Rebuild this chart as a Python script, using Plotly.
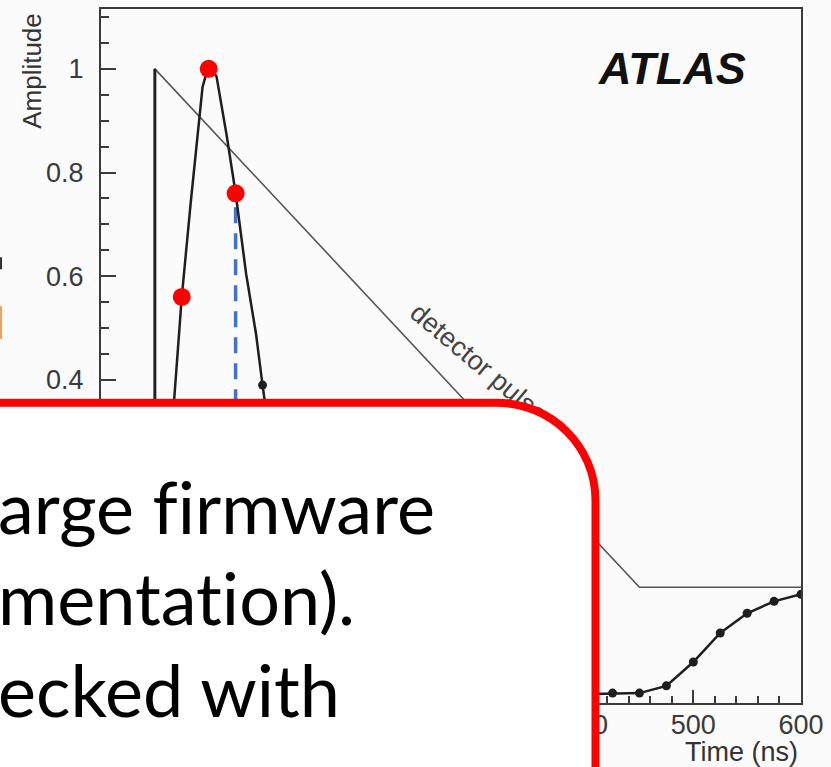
import plotly.graph_objects as go

# ---------------- data ----------------
# Triangular detector current pulse (drift time ~450 ns)
det_t = [0, 0, 450, 600]
det_amp = [0, 1.0, 0, 0]

# Shaped (bipolar) pulse
shape_t = [5, 17.6, 25, 33.4, 39.6, 44.3, 49, 53, 57.3, 66.6, 75, 84.8, 94, 100,
           110, 125, 150, 175, 200, 250, 300, 350, 400, 425, 450, 475, 500, 525,
           550, 575, 600]
shape_amp = [0.0, 0.36, 0.56, 0.744, 0.873, 0.965, 1.0, 1.0, 0.985, 0.873, 0.76,
             0.604, 0.488, 0.39, 0.24, 0.06, -0.12, -0.185, -0.205, -0.21, -0.21,
             -0.208, -0.205, -0.204, -0.204, -0.19, -0.144, -0.088, -0.05, -0.027,
             -0.0135]

# Digitised samples every 25 ns
sample_t = [25, 50, 75, 100, 125, 150, 175, 200, 225, 250, 275, 300, 325, 350,
            375, 400, 425, 450, 475, 500, 525, 550, 575, 600]
sample_amp = [0.56, 1.0, 0.76, 0.39, 0.06, -0.12, -0.185, -0.205, -0.21, -0.21,
              -0.21, -0.21, -0.21, -0.208, -0.207, -0.205, -0.204, -0.204, -0.19,
              -0.144, -0.088, -0.05, -0.027, -0.0135]
n_highlight = 3          # first samples around the peak
marked_sample = 75       # sample picked out with the dashed line

x_tickvals = [0, 100, 200, 300, 400, 500, 600]
x_ticktext = ["0", "100", "200", "300", "400", "500", "600"]
y_tickvals = [-0.2, 0, 0.2, 0.4, 0.6, 0.8, 1.0]
y_ticktext = ["-0.2", "0", "0.2", "0.4", "0.6", "0.8", "1"]

# callout text (a zero-width non-joiner keeps f/i and t/i as separate glyphs)
ZWNJ = "\u200c"
box_lines = ["arge f" + ZWNJ + "irmware", "mentat" + ZWNJ + "ion).", "ecked with"]
box_baselines = [533, 625, 717]

# ---------------- geometry ----------------
W, H = 831, 767
ML, MR, MT, MB = 101, 30, 7, 64
PW, PH = W - ML - MR, H - MT - MB


def px(x):
    return (x - ML) / PW


def py(y):
    return (H - MB - y) / PH


AX_FONT = "Liberation Sans, Arial, Helvetica, sans-serif"
BOX_FONT = "Lato, Calibri, sans-serif"

fig = go.Figure()

# detector pulse triangle
fig.add_trace(go.Scatter(x=det_t, y=det_amp, mode="lines",
                         line=dict(color="#555555", width=1.6),
                         hoverinfo="skip", showlegend=False))
# rising edge drawn heavier
fig.add_trace(go.Scatter(x=det_t[:2], y=det_amp[:2], mode="lines",
                         line=dict(color="#222222", width=3),
                         hoverinfo="skip", showlegend=False))

# dashed marker line for the chosen sample
m_idx = sample_t.index(marked_sample)
fig.add_trace(go.Scatter(x=[marked_sample, marked_sample], y=[0, sample_amp[m_idx]],
                         mode="lines",
                         line=dict(color="#4472C4", width=3.5, dash="16px,10px"),
                         hoverinfo="skip", showlegend=False))

# shaped pulse curve
fig.add_trace(go.Scatter(x=shape_t, y=shape_amp, mode="lines",
                         line=dict(color="#1e1e1e", width=2.5),
                         hoverinfo="skip", showlegend=False))

# samples
fig.add_trace(go.Scatter(x=sample_t[n_highlight:], y=sample_amp[n_highlight:],
                         mode="markers",
                         marker=dict(color="#1e1e1e", size=9),
                         hoverinfo="skip", showlegend=False))
fig.add_trace(go.Scatter(x=sample_t[:n_highlight], y=sample_amp[:n_highlight],
                         mode="markers",
                         marker=dict(color="#FF0000", size=18),
                         hoverinfo="skip", showlegend=False))

# "detector pulse" label, kept in the shape layer so the callout box covers its end
lx, ly = 481, 360
shapes = [
    dict(type="line", xref="paper", yref="paper",
         x0=px(lx - 5), y0=py(ly), x1=px(lx + 5), y1=py(ly),
         line=dict(width=0, color="rgba(0,0,0,0)"), layer="above",
         label=dict(text="detector pulse", textangle=40, textposition="middle",
                    xanchor="center", yanchor="middle", padding=0,
                    font=dict(family=AX_FONT, size=27, color="#444444"))),
]

# rounded callout box (top-right corner visible)
R = 98.0
K = 0.5523 * R
bx, by = 595.5, 402.0
pts = [
    ("M", [(-30, by)]),
    ("L", [(bx - R, by)]),
    ("C", [(bx - R + K, by), (bx, by + R - K), (bx, by + R)]),
    ("L", [(bx, 820)]),
    ("L", [(-30, 820)]),
]
path = ""
for cmd, coords in pts:
    path += cmd + " ".join(f"{px(a):.5f},{py(b):.5f}" for a, b in coords) + " "
path += "Z"
shapes.append(dict(type="path", xref="paper", yref="paper", path=path,
                   fillcolor="#ffffff", line=dict(color="#FF0000", width=8),
                   layer="above"))

# slivers of neighbouring slide text at the left edge
shapes.append(dict(type="line", xref="paper", yref="paper",
                   x0=px(0.8), x1=px(0.8), y0=py(256), y1=py(268),
                   line=dict(color="#333333", width=2.5), layer="above"))
shapes.append(dict(type="line", xref="paper", yref="paper",
                   x0=px(0.8), x1=px(0.8), y0=py(305), y1=py(338),
                   line=dict(color="#F2A05E", width=2.5), layer="above"))

annotations = [
    dict(text="Amplitude", xref="paper", yref="paper", x=px(32), y=py(69),
         textangle=-90, showarrow=False, xanchor="center", yanchor="middle",
         font=dict(family=AX_FONT, size=26, color="#333333")),
    dict(text="Time (ns)", xref="paper", yref="paper", x=px(741), y=py(752),
         showarrow=False, xanchor="center", yanchor="middle",
         font=dict(family=AX_FONT, size=27, color="#333333")),
    dict(text="<b><i>ATLAS</i></b>", xref="paper", yref="paper", x=px(672), y=py(67),
         showarrow=False, xanchor="center", yanchor="middle",
         font=dict(family=AX_FONT, size=45, color="#111111")),
]

for txt, base in zip(box_lines, box_baselines):
    annotations.append(dict(text=txt, xref="paper", yref="paper",
                            x=px(-4), y=py(base - 28), showarrow=False,
                            xanchor="left", yanchor="middle", align="left",
                            font=dict(family=BOX_FONT, size=72, color="#000000")))

axis_common = dict(showgrid=False, zeroline=False, showline=True, mirror=True,
                   linecolor="#3a3a3a", linewidth=2, ticks="inside",
                   tickcolor="#3a3a3a", tickwidth=1.5,
                   tickfont=dict(family=AX_FONT, size=27, color="#3a3a3a"))

fig.update_xaxes(range=[-50, 600], tickmode="array", tickvals=x_tickvals,
                 ticktext=x_ticktext, ticklen=13, ticklabelstandoff=-3,
                 minor=dict(dtick=20, tick0=0, ticks="inside", ticklen=7,
                            tickcolor="#3a3a3a", tickwidth=1.5),
                 **axis_common)
fig.update_yaxes(range=[-0.2231, 1.1154], tickmode="array", tickvals=y_tickvals,
                 ticktext=y_ticktext, ticklen=15, ticklabelstandoff=10,
                 minor=dict(dtick=0.05, tick0=0, ticks="inside", ticklen=8,
                            tickcolor="#3a3a3a", tickwidth=1.5),
                 **axis_common)

fig.update_layout(width=W, height=H, margin=dict(l=ML, r=MR, t=MT, b=MB),
                  paper_bgcolor="#fbfbfb", plot_bgcolor="#fbfbfb",
                  showlegend=False, shapes=shapes, annotations=annotations)

fig.write_html("out.html")
